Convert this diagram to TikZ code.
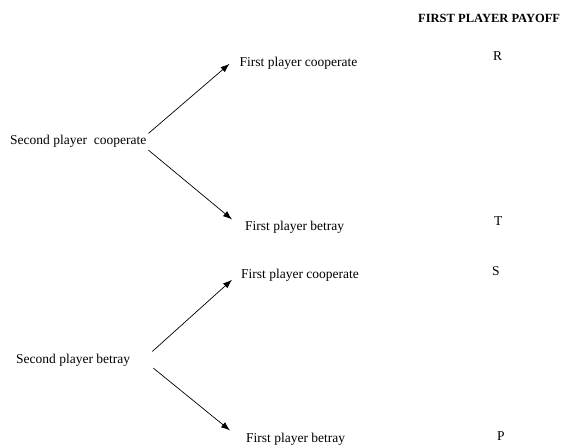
\documentclass[tikz,border=0pt]{standalone}
\usepackage{fontspec}
\setmainfont{Liberation Serif}
\usepackage{tikz}
\usetikzlibrary{arrows.meta, positioning}

\begin{document}
\begin{tikzpicture}[x=1pt, y=-1pt, txt/.style={anchor=base west, inner sep=2pt, font=\fontsize{13.5}{16}\selectfont}, head/.style={anchor=base west, inner sep=2pt, font=\fontsize{12.5}{14}\selectfont\bfseries}, arrow/.style={-{Latex[length=9pt, width=6.5pt]}, line width=0.7pt}]
\useasboundingbox (0,0) rectangle (562,446);
\node[head] (h) at (416,23) {FIRST PLAYER PAYOFF};
\node[txt] (sc) at (8,145) {Second player\ \ cooperate};
\node[txt] (fc1) at (237.5,67) {First player cooperate};
\node[txt] (fb1) at (243,231) {First player betray};
\node[txt] (sb) at (14,363) {Second player betray};
\node[txt] (fc2) at (239,279) {First player cooperate};
\node[txt] (fb2) at (244,442) {First player betray};
\node[txt] (r) at (491,61) {R};
\node[txt] (t) at (492,226) {T};
\node[txt] (s) at (490,276) {S};
\node[txt] (p) at (495,440) {P};
\draw[arrow] (sc.north east) -- ([xshift=-8pt]fc1.west);
\draw[arrow] (sc.south east) -- ([xshift=-11pt]fb1.north west);
\draw[arrow] ([xshift=20pt]sb.north east) -- ([xshift=-7pt, yshift=-4pt]fc2.west);
\draw[arrow] ([xshift=21pt]sb.south east) -- ([xshift=-14pt]fb2.north west);
\end{tikzpicture}
\end{document}
